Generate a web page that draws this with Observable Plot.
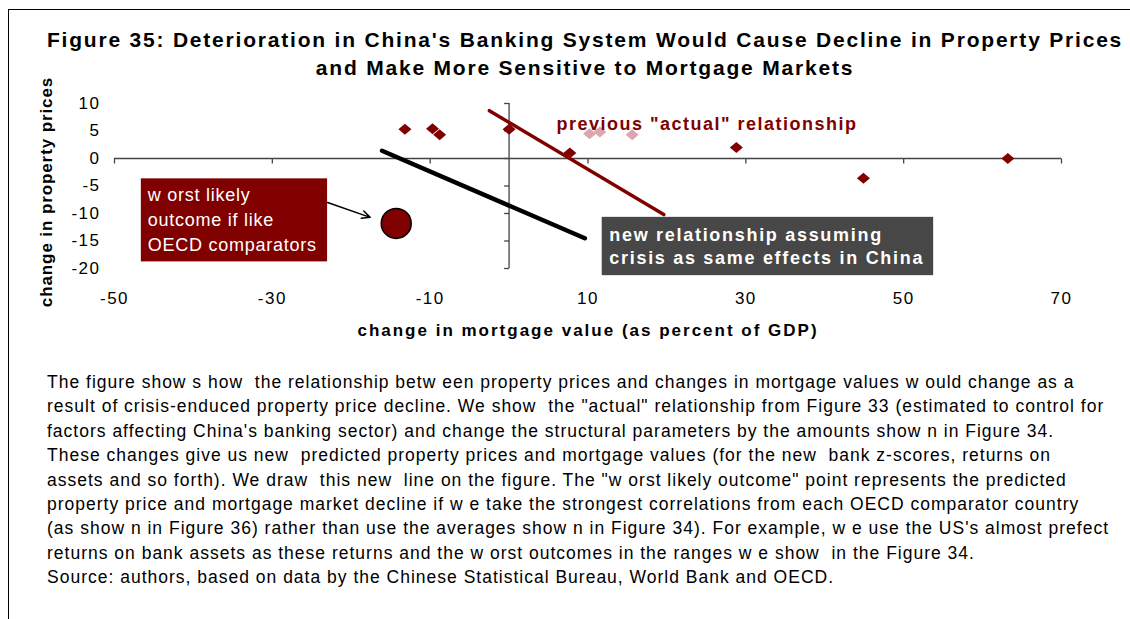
<!DOCTYPE html>
<html><head><meta charset="utf-8">
<script src="https://cdn.jsdelivr.net/npm/d3@7"></script>
<script src="https://cdn.jsdelivr.net/npm/@observablehq/plot@0.6"></script>
<style>
body{margin:0;background:#fff;font-family:Arial,"Liberation Sans",sans-serif;}
#page{position:relative;width:1130px;height:619px;overflow:hidden;background:#fff;}
#frame{position:absolute;left:8px;top:9px;width:1130px;height:620px;border-left:1.5px solid #000;border-top:1.5px solid #000;}
#title{position:absolute;left:40px;width:1090px;top:26px;text-align:center;font-weight:bold;font-size:21px;line-height:28px;letter-spacing:1.8px;color:#000;white-space:nowrap;}
#chart{position:absolute;left:0;top:85px;}
#ylabel{position:absolute;left:47px;top:192px;transform:translate(-50%,-50%) rotate(-90deg);font-weight:bold;font-size:17px;letter-spacing:0.9px;white-space:nowrap;color:#000;}
#caption{position:absolute;left:47px;top:370px;font-size:17.5px;line-height:24.4px;letter-spacing:1.0px;color:#000;white-space:pre;}
</style></head>
<body>
<div id="page">
<div id="frame"></div>
<div id="title"></div>
<div id="chart"></div>
<div id="ylabel"></div>
<div id="caption"></div>
</div>
<script>
// ---- data ----
const titleLines = ["Figure 35: Deterioration in China's Banking System Would Cause Decline in Property Prices", "and Make More Sensitive to Mortgage Markets"];
const xTicks = [-50, -30, -10, 10, 30, 50, 70];
const yTicks = [-20, -15, -10, -5, 0, 5, 10];
const mortgageChange = [-13.2, -9.7, -8.8, 0, 7.7, 28.8, 44.9, 63.2];
const priceChange = [5.3, 5.4, 4.3, 5.3, 1.0, 2.0, -3.6, 0];
const fadedMortgage = [10.2, 11.5, 15.6];
const fadedPrice = [4.5, 4.8, 4.3];
const actualLineX = [-2.5, 19.6];
const actualLineY = [8.7, -10.2];
const newLineX = [-16.1, 9.6];
const newLineY = [1.4, -14.5];
const worstX = [-14.3];
const worstY = [-11.8];
const xLabel = "change in mortgage value (as percent of GDP)";
const yLabel = "change in property prices";
const actualLabel = "previous \"actual\" relationship";
const worstLabel = "w orst likely\noutcome if like\nOECD comparators";
const newLabel = "new relationship assuming\ncrisis as same effects in China";
const captionLines = [
"The figure show s how  the relationship betw een property prices and changes in mortgage values w ould change as a",
"result of crisis-enduced property price decline. We show  the \"actual\" relationship from Figure 33 (estimated to control for",
"factors affecting China's banking sector) and change the structural parameters by the amounts show n in Figure 34.",
"These changes give us new  predicted property prices and mortgage values (for the new  bank z-scores, returns on",
"assets and so forth). We draw  this new  line on the figure. The \"w orst likely outcome\" point represents the predicted",
"property price and mortgage market decline if w e take the strongest correlations from each OECD comparator country",
"(as show n in Figure 36) rather than use the averages show n in Figure 34). For example, w e use the US's almost prefect",
"returns on bank assets as these returns and the w orst outcomes in the ranges w e show  in the Figure 34.",
"Source: authors, based on data by the Chinese Statistical Bureau, World Bank and OECD."
];

// ---- annotation placement (data units) ----
const worstBox = {x1: -46.6, x2: -23.0, y1: -3.7, y2: -18.8, tx: -45.8, ty: -10.8};
const newBox = {x1: 11.8, x2: 53.8, y1: -10.7, y2: -21.3, tx: 12.7, ty: -15.7};
const actualPos = {x: 6.0, y: 6.2};
const arrowPos = {x1: -23.0, y1: -8.0, x2: -17.6, y2: -10.7};

// ---- build ----
document.getElementById("title").innerHTML = titleLines.map(t => `<div>${t}</div>`).join("");
document.getElementById("caption").textContent = captionLines.join("\n");
document.getElementById("ylabel").textContent = yLabel;

const maroon = "#800000";
const axisColor = "#444";
const points = mortgageChange.map((x, i) => ({x, y: priceChange[i]}));
const faded = fadedMortgage.map((x, i) => ({x, y: fadedPrice[i]}));
const actualLine = actualLineX.map((x, i) => ({x, y: actualLineY[i]}));
const newLine = newLineX.map((x, i) => ({x, y: newLineY[i]}));
const worst = worstX.map((x, i) => ({x, y: worstY[i]}));

const diamond = {draw(ctx) { ctx.moveTo(0, -5.5); ctx.lineTo(6.5, 0); ctx.lineTo(0, 5.5); ctx.lineTo(-6.5, 0); ctx.closePath(); }};
const downTick = {draw(ctx) { ctx.moveTo(0, 0); ctx.lineTo(0, 5); }};
const leftTick = {draw(ctx) { ctx.moveTo(0, 0); ctx.lineTo(-5, 0); }};

// letter spacing for each free text mark, in mark order
const textSpacing = ["2px", "1.5px", "0.75px", "1.7px"];

const chart = Plot.plot({
  width: 1130,
  height: 265,
  marginLeft: 114,
  marginRight: 69,
  marginTop: 18,
  marginBottom: 82,
  style: {fontFamily: "Arial, 'Liberation Sans', sans-serif", fontSize: "17px", color: "#000", background: "transparent", overflow: "visible"},
  x: {domain: [-50, 70]},
  y: {domain: [-20, 10]},
  marks: [
    Plot.axisX({ticks: xTicks, tickSize: 0, tickPadding: 23, label: null, fontSize: 17, tickFormat: d => String(d)}),
    Plot.axisY({ticks: yTicks, tickSize: 0, tickPadding: 14, label: null, fontSize: 17, tickFormat: d => String(d)}),
    Plot.ruleY([0], {x1: -50, x2: 70, stroke: axisColor, strokeWidth: 1.3}),
    Plot.ruleX([0], {y1: -20, y2: 10, stroke: axisColor, strokeWidth: 1.3}),
    Plot.dot(xTicks, {x: d => d, y: 0, symbol: downTick, stroke: axisColor, fill: "none", strokeWidth: 1.3}),
    Plot.dot(yTicks, {x: 0, y: d => d, symbol: leftTick, stroke: axisColor, fill: "none", strokeWidth: 1.3}),
    Plot.text([xLabel], {frameAnchor: "bottom", dy: 62, fontWeight: "bold", fontSize: 17, lineAnchor: "middle", text: d => d}),
    Plot.dot(faded, {x: "x", y: "y", symbol: diamond, fill: "#dca6ae", stroke: "none"}),
    Plot.text([actualLabel], {x: actualPos.x, y: actualPos.y, text: d => d, textAnchor: "start", lineAnchor: "middle", fill: maroon, fontWeight: "bold", fontSize: 18}),
    Plot.line(newLine, {x: "x", y: "y", stroke: "#000", strokeWidth: 4.5}),
    Plot.line(actualLine, {x: "x", y: "y", stroke: maroon, strokeWidth: 3.5}),
    Plot.dot(points, {x: "x", y: "y", symbol: diamond, fill: maroon, stroke: "none"}),
    Plot.dot(worst, {x: "x", y: "y", r: 15, fill: maroon, stroke: "#000", strokeWidth: 1.5}),
    Plot.arrow([arrowPos], {x1: "x1", y1: "y1", x2: "x2", y2: "y2", stroke: "#000", strokeWidth: 1.5, headLength: 9, headAngle: 50}),
    Plot.rect([worstBox], {x1: "x1", x2: "x2", y1: "y1", y2: "y2", fill: maroon}),
    Plot.text([worstLabel], {x: worstBox.tx, y: worstBox.ty, text: d => d, textAnchor: "start", lineAnchor: "middle", lineHeight: 1.4, fill: "#fff", fontSize: 18}),
    Plot.rect([newBox], {x1: "x1", x2: "x2", y1: "y1", y2: "y2", fill: "#474747"}),
    Plot.text([newLabel], {x: newBox.tx, y: newBox.ty, text: d => d, textAnchor: "start", lineAnchor: "middle", lineHeight: 1.33, fill: "#fff", fontWeight: "bold", fontSize: 18})
  ]
});
d3.select(chart).selectAll('g[aria-label="text"]').each(function(_, i) {
  if (textSpacing[i]) d3.select(this).style("letter-spacing", textSpacing[i]).selectAll("text").style("letter-spacing", textSpacing[i]);
});
d3.select(chart).selectAll('g[aria-label$="tick label"] text').style("letter-spacing", "1.5px");
document.getElementById("chart").appendChild(chart);
</script>
</body></html>
